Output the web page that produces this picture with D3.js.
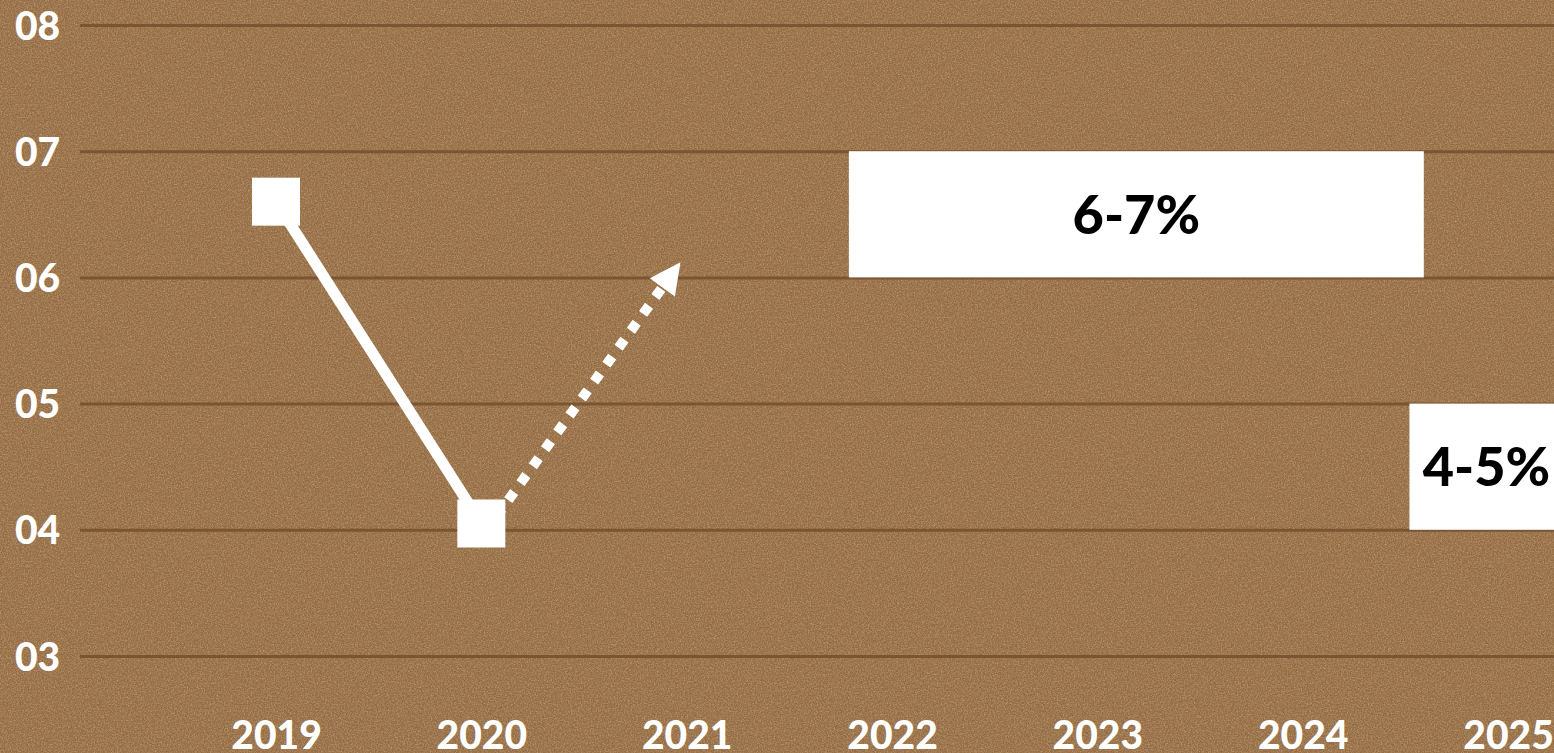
<!DOCTYPE html>
<html>
<head>
<meta charset="utf-8">
<script src="https://cdn.jsdelivr.net/npm/d3@7"></script>
<style>
  html, body { margin: 0; padding: 0; background: #946a40; overflow: hidden; }
  svg { display: block; }
</style>
</head>
<body>
<svg id="chart" width="1554" height="753"></svg>
<script>
// Growth rates (%) — actual, forecast and expected ranges
const years = [2019, 2020, 2021, 2022, 2023, 2024, 2025];
const yTicks = [3, 4, 5, 6, 7, 8];

const actualYears = [2019, 2020];
const actualValues = [6.6, 4.05];

const forecastYears = [2020, 2020.97];
const forecastValues = [4.05, 6.12];

const rangeLabels = ["6-7%", "4-5%"];
const rangeLow = [6, 4];
const rangeHigh = [7, 5];
const rangeStartYear = [2021.79, 2024.52];
const rangeEndYear = [2024.59, 2025.27];

const W = 1554, H = 753;
const svg = d3.select("#chart");

const x = d3.scaleLinear().domain([2019, 2025]).range([276, 1508]);
const y = d3.scaleLinear().domain([3, 8]).range([656, 25]);

// textured cork-board background
const defs = svg.append("defs");
const noise = defs.append("filter").attr("id", "grain")
  .attr("x", 0).attr("y", 0).attr("width", "100%").attr("height", "100%");
noise.append("feTurbulence").attr("type", "fractalNoise")
  .attr("baseFrequency", 0.85).attr("numOctaves", 2).attr("seed", 7).attr("result", "n");
noise.append("feColorMatrix").attr("type", "matrix")
  .attr("values", "0 0 0 0 0.42  0 0 0 0 0.29  0 0 0 0 0.16  2.0 0 0 0 -0.75");
const light = defs.append("filter").attr("id", "speck")
  .attr("x", 0).attr("y", 0).attr("width", "100%").attr("height", "100%");
light.append("feTurbulence").attr("type", "fractalNoise")
  .attr("baseFrequency", 0.7).attr("numOctaves", 2).attr("seed", 19);
light.append("feColorMatrix").attr("type", "matrix")
  .attr("values", "0 0 0 0 0.72  0 0 0 0 0.56  0 0 0 0 0.38  2.0 0 0 0 -0.8");

svg.append("rect").attr("width", W).attr("height", H).attr("fill", "#93693f");
svg.append("rect").attr("width", W).attr("height", H).attr("filter", "url(#grain)").attr("opacity", 0.6);
svg.append("rect").attr("width", W).attr("height", H).attr("filter", "url(#speck)").attr("opacity", 0.45);

const font = "Lato, 'Noto Sans', sans-serif";

// gridlines
const yAxis = d3.axisLeft(y).tickValues(yTicks).tickSize(-(W - 80)).tickFormat(d => d3.format("02d")(d));
const gy = svg.append("g").attr("transform", "translate(80,0)").call(yAxis);
gy.select(".domain").remove();
gy.selectAll(".tick line").attr("stroke", "#7a5533").attr("stroke-width", 3);
gy.selectAll(".tick text")
  .attr("x", -65).attr("dy", "0.36em")
  .attr("text-anchor", "start")
  .attr("fill", "#ffffff")
  .style("font-family", font).style("font-weight", 900).style("font-size", "39px");

// year labels
const xAxis = d3.axisBottom(x).tickValues(years).tickSize(0).tickFormat(d3.format("d"));
const gx = svg.append("g").attr("transform", "translate(0,749)").call(xAxis);
gx.select(".domain").remove();
gx.selectAll(".tick text")
  .attr("y", 0).attr("dy", 0)
  .attr("fill", "#ffffff")
  .style("font-family", font).style("font-weight", 900).style("font-size", "39px");

// range boxes
const ranges = rangeLabels.map((t, i) => ({
  label: t, lo: rangeLow[i], hi: rangeHigh[i], x0: rangeStartYear[i], x1: rangeEndYear[i]
}));
const rg = svg.append("g").selectAll("g").data(ranges).join("g");
rg.append("rect")
  .attr("x", d => x(d.x0)).attr("y", d => y(d.hi))
  .attr("width", d => x(d.x1) - x(d.x0)).attr("height", d => y(d.lo) - y(d.hi))
  .attr("fill", "#ffffff");
rg.append("text")
  .attr("x", d => (x(d.x0) + x(d.x1)) / 2)
  .attr("y", d => y((d.lo + d.hi) / 2))
  .attr("dy", "0.36em")
  .attr("text-anchor", "middle")
  .attr("fill", "#000000")
  .style("font-family", font).style("font-weight", 900).style("font-size", "54px")
  .text(d => d.label);

// forecast: dotted arrow
const fx0 = x(forecastYears[0]) + 10, fy0 = y(forecastValues[0]);
const fx1 = x(forecastYears[1]), fy1 = y(forecastValues[1]);
const len = Math.hypot(fx1 - fx0, fy1 - fy0);
const ux = (fx1 - fx0) / len, uy = (fy1 - fy0) / len;
const headLen = 31, headHalf = 15.5;
const bx = fx1 - ux * headLen, by = fy1 - uy * headLen;
svg.append("line")
  .attr("x1", fx0).attr("y1", fy0).attr("x2", bx + ux * 4).attr("y2", by + uy * 4)
  .attr("stroke", "#ffffff").attr("stroke-width", 10)
  .attr("stroke-dasharray", "10 10.9").attr("stroke-dashoffset", -8);
svg.append("path")
  .attr("d", `M${fx1},${fy1} L${bx - uy * headHalf},${by + ux * headHalf} L${bx + uy * headHalf},${by - ux * headHalf} Z`)
  .attr("fill", "#ffffff");

// actual values: line with square markers
const pts = actualYears.map((yr, i) => [x(yr), y(actualValues[i])]);
svg.append("path")
  .attr("d", d3.line()(pts))
  .attr("fill", "none").attr("stroke", "#ffffff").attr("stroke-width", 11);
svg.append("g").selectAll("rect").data(pts).join("rect")
  .attr("x", d => d[0] - 24).attr("y", d => d[1] - 24)
  .attr("width", 48).attr("height", 48)
  .attr("fill", "#ffffff");
</script>
</body>
</html>
